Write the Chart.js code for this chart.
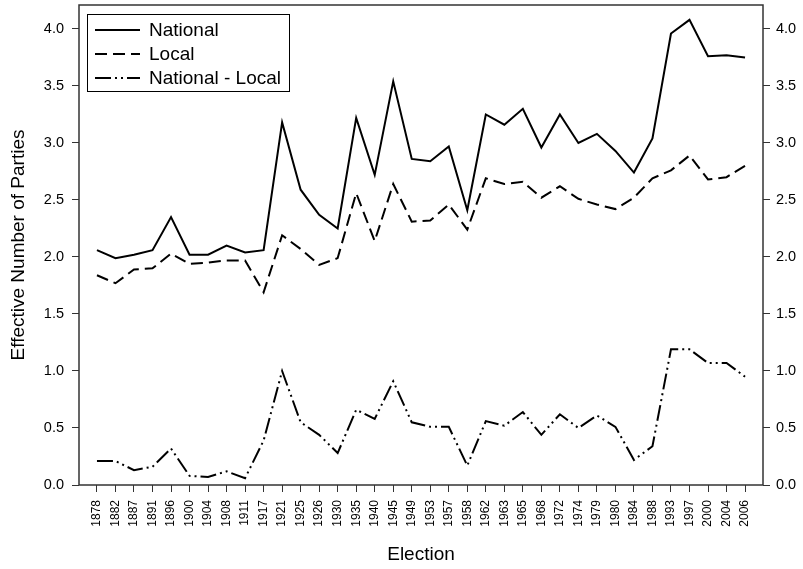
<!DOCTYPE html>
<html>
<head>
<meta charset="utf-8">
<title>Effective Number of Parties</title>
<script src="https://cdn.jsdelivr.net/npm/chart.js@4.4.1/dist/chart.umd.min.js"></script>
<style>
  html, body { margin: 0; padding: 0; background: #fff; }
  #wrap { width: 803px; height: 569px; }
</style>
</head>
<body>
<div id="wrap"><canvas id="partiesChart" width="803" height="569"></canvas></div>
<script>
// election years (categories)
const years = ['1878','1882','1887','1891','1896','1900','1904','1908','1911','1917',
               '1921','1925','1926','1930','1935','1940','1945','1949','1953','1957',
               '1958','1962','1963','1965','1968','1972','1974','1979','1980','1984',
               '1988','1993','1997','2000','2004','2006'];

const national = [2.06, 1.99, 2.02, 2.06, 2.35, 2.02, 2.02, 2.10, 2.04, 2.06,
                  3.18, 2.59, 2.37, 2.25, 3.22, 2.72, 3.54, 2.86, 2.84, 2.97,
                  2.41, 3.25, 3.16, 3.30, 2.96, 3.25, 3.00, 3.08, 2.93, 2.74,
                  3.04, 3.96, 4.08, 3.76, 3.77, 3.75];

const local = [1.84, 1.77, 1.89, 1.90, 2.03, 1.94, 1.95, 1.97, 1.97, 1.69,
               2.19, 2.07, 1.93, 1.99, 2.56, 2.14, 2.64, 2.31, 2.32, 2.46,
               2.24, 2.69, 2.64, 2.66, 2.52, 2.62, 2.51, 2.46, 2.42, 2.52,
               2.69, 2.76, 2.89, 2.68, 2.70, 2.80];

const difference = [0.21, 0.21, 0.13, 0.16, 0.32, 0.08, 0.07, 0.12, 0.06, 0.39,
                    1.00, 0.55, 0.44, 0.28, 0.66, 0.58, 0.91, 0.55, 0.51, 0.51,
                    0.17, 0.56, 0.52, 0.64, 0.44, 0.62, 0.50, 0.61, 0.51, 0.22,
                    0.34, 1.19, 1.19, 1.07, 1.07, 0.95];

const yTicks = [0, 0.5, 1.0, 1.5, 2.0, 2.5, 3.0, 3.5, 4.0];

const FONT = "'Liberation Sans', Arial, Helvetica, sans-serif";
const INK = '#000';
const FRAME = '#333';

function toPoints(arr) {
    return arr.map((v, i) => ({ x: i, y: v }));
}

// box around the plot, like base R
const framePlugin = {
    id: 'frame',
    afterDraw(chart) {
        const { ctx, chartArea: a } = chart;
        ctx.save();
        ctx.strokeStyle = FRAME;
        ctx.lineWidth = 1.5;
        ctx.strokeRect(a.left, a.top, a.right - a.left, a.bottom - a.top);
        ctx.restore();
    }
};

// legend drawn inside the plot, top left
const boxLegend = {
    id: 'boxLegend',
    afterDraw(chart) {
        const { ctx, chartArea: a } = chart;
        const x0 = a.left + 8, y0 = a.top + 9;
        const w = 202, h = 77;
        ctx.save();
        ctx.fillStyle = '#fff';
        ctx.fillRect(x0, y0, w, h);
        ctx.strokeStyle = INK;
        ctx.lineWidth = 1;
        ctx.strokeRect(x0 + 0.5, y0 + 0.5, w, h);
        ctx.font = '19px ' + FONT;
        ctx.textBaseline = 'middle';
        chart.data.datasets.forEach((ds, i) => {
            const y = y0 + 16 + i * 24;
            ctx.beginPath();
            ctx.setLineDash(ds.borderDash || []);
            ctx.lineWidth = ds.borderWidth;
            ctx.strokeStyle = ds.borderColor;
            ctx.moveTo(x0 + 8, y);
            ctx.lineTo(x0 + 53, y);
            ctx.stroke();
            ctx.setLineDash([]);
            ctx.fillStyle = INK;
            ctx.fillText(ds.label, x0 + 62, y + 1);
        });
        ctx.restore();
    }
};

document.addEventListener('DOMContentLoaded', function() {
    const ctx = document.getElementById('partiesChart').getContext('2d');

    const lineBase = { borderColor: INK, borderWidth: 2, pointRadius: 0, fill: false, tension: 0, borderCapStyle: 'butt' };

    const yAxis = (pos, width, pad) => ({
        type: 'linear',
        position: pos,
        display: true,
        min: 0,
        max: 4.21,
        border: { display: false },
        grid: { drawOnChartArea: false, tickLength: 7, tickColor: FRAME, lineWidth: 1 },
        afterBuildTicks: s => { s.ticks = yTicks.map(v => ({ value: v })); },
        ticks: { color: INK, padding: pad, font: { family: FONT, size: 14.5 }, callback: v => v.toFixed(1) },
        afterFit: s => { s.width = width; s.paddingTop = 0; s.paddingBottom = 0; }
    });

    const leftAxis = yAxis('left', 79, 8);
    leftAxis.title = { display: true, text: 'Effective Number of Parties', color: INK, font: { family: FONT, size: 19 }, padding: { top: 7, bottom: 0 } };

    new Chart(ctx, {
        type: 'line',
        data: {
            datasets: [
                Object.assign({ label: 'National', data: toPoints(national), borderDash: [] }, lineBase),
                Object.assign({ label: 'Local', data: toPoints(local), borderDash: [12, 6] }, lineBase),
                Object.assign({ label: 'National - Local', data: toPoints(difference), borderDash: [16, 4, 2, 4, 2, 4] }, lineBase)
            ]
        },
        options: {
            responsive: false,
            animation: false,
            layout: { padding: { top: 5, left: 0, right: 0, bottom: 0 } },
            plugins: { legend: { display: false }, tooltip: { enabled: false } },
            scales: {
                x: {
                    type: 'linear',
                    min: -0.97,
                    max: years.length - 1 + 0.97,
                    border: { display: false },
                    grid: { drawOnChartArea: false, tickLength: 7, tickColor: FRAME, lineWidth: 1 },
                    afterBuildTicks: s => { s.ticks = years.map((_, i) => ({ value: i })); },
                    ticks: {
                        autoSkip: false, minRotation: 90, maxRotation: 90, padding: 8, color: INK,
                        font: { family: FONT, size: 12 },
                        callback: v => years[v]
                    },
                    title: { display: true, text: 'Election', color: INK, font: { family: FONT, size: 19 }, padding: { top: 0, bottom: 3 } },
                    afterFit: s => { s.height = 84; s.paddingLeft = 0; s.paddingRight = 0; }
                },
                y: leftAxis,
                y2: yAxis('right', 40, 6)
            }
        },
        plugins: [framePlugin, boxLegend]
    });
});
</script>
</body>
</html>
